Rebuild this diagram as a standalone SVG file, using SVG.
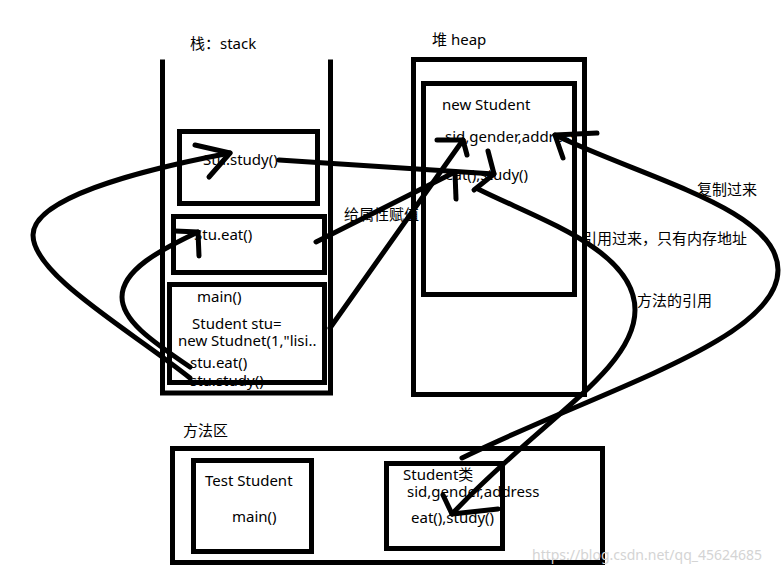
<svg xmlns="http://www.w3.org/2000/svg" width="784" height="573" viewBox="0 0 784 573">
<style>
.box{fill:none;stroke:#000;stroke-width:5}
.ln{fill:none;stroke:#000;stroke-width:5;stroke-linecap:square}
.c{fill:none;stroke:#000;stroke-width:5;stroke-linecap:round;stroke-linejoin:round}
text{font-family:"Noto Sans","Noto Sans CJK SC",sans-serif;font-size:15px;fill:#000}
.wm{fill:#d4d4d4;font-size:14px}
</style>
<rect width="784" height="573" fill="#fff"/>
<g id="stack">
<text x="190" y="49">栈：stack</text>
<path class="ln" d="M162.5 62 V393 H330.5 V62"/>
</g>
<g id="stack-study">
<text x="203" y="165">Stu.study()</text>
<rect class="box" x="179.5" y="131.5" width="138" height="72"/>
</g>
<g id="stack-eat">
<text x="194" y="240">Stu.eat()</text>
<rect class="box" x="173.5" y="216.5" width="151" height="56"/>
</g>
<g id="stack-main">
<text x="197" y="302">main()</text>
<text x="192" y="329">Student stu=</text>
<text x="178" y="346">new Studnet(1,"lisi..</text>
<text x="190" y="368">stu.eat()</text>
<text x="190" y="386">stu.study()</text>
<rect class="box" x="169.5" y="284.5" width="155" height="98"/>
</g>
<g id="heap">
<text x="432" y="45">堆  heap</text>
<rect class="box" x="413.5" y="59.5" width="171" height="335"/>
</g>
<g id="heap-student">
<text x="442" y="110">new Student</text>
<text x="445" y="142">sid,gender,address</text>
<text x="445" y="180">eat(),study()</text>
<rect class="box" x="423.5" y="83.5" width="151" height="211"/>
</g>
<g id="method-area">
<text x="183" y="436">方法区</text>
<rect class="box" x="172.5" y="448.5" width="430" height="114"/>
</g>
<g id="test-student">
<text x="205" y="486">Test Student</text>
<text x="232" y="522">main()</text>
<rect class="box" x="193.5" y="460.5" width="118" height="91"/>
</g>
<g id="student-class">
<text x="403" y="480">Student类</text>
<text x="407" y="497">sid,gender,address</text>
<text x="411" y="523">eat(),study()</text>
<rect class="box" x="386.5" y="463.5" width="116" height="85"/>
</g>
<g id="connectors">
<path class="c" d="M190 378 C130 330 33 275 33 235 C33 200 130 172 230 153"/>
<path class="c" d="M195 145 L230 153 L209 177"/>
<path class="c" d="M190 367 C150 340 122 320 122 297 C122 270 160 250 198 232"/>
<path class="c" d="M175 231 L198 232 L199 256"/>
<path class="c" d="M279 160 L494 174"/>
<path class="c" d="M488 151 L494 174 L474 190"/>
<path class="c" d="M316 242 L455 172"/>
<path class="c" d="M455 172 L456 199"/>
<path class="c" d="M330 328 L463 140"/>
<path class="c" d="M437 140 L463 140 L467 155"/>
<path class="c" d="M462 458 C600 390 778 340 778 270 C778 210 650 180 555 135"/>
<path class="c" d="M597 133 L555 135 L563 158"/>
<path class="c" d="M452 514 C540 420 635 370 635 310 C635 250 540 220 478 189"/>
<path class="c" d="M443 495 L452 514 L498 509"/>
</g>
<g id="labels">
<text x="344" y="220">给属性赋值</text>
<text x="697" y="195">复制过来</text>
<text x="582" y="244">引用过来，只有内存地址</text>
<text x="637" y="306">方法的引用</text>
<text class="wm" x="532" y="560">https://blog.csdn.net/qq_45624685</text>
</g>
</svg>
